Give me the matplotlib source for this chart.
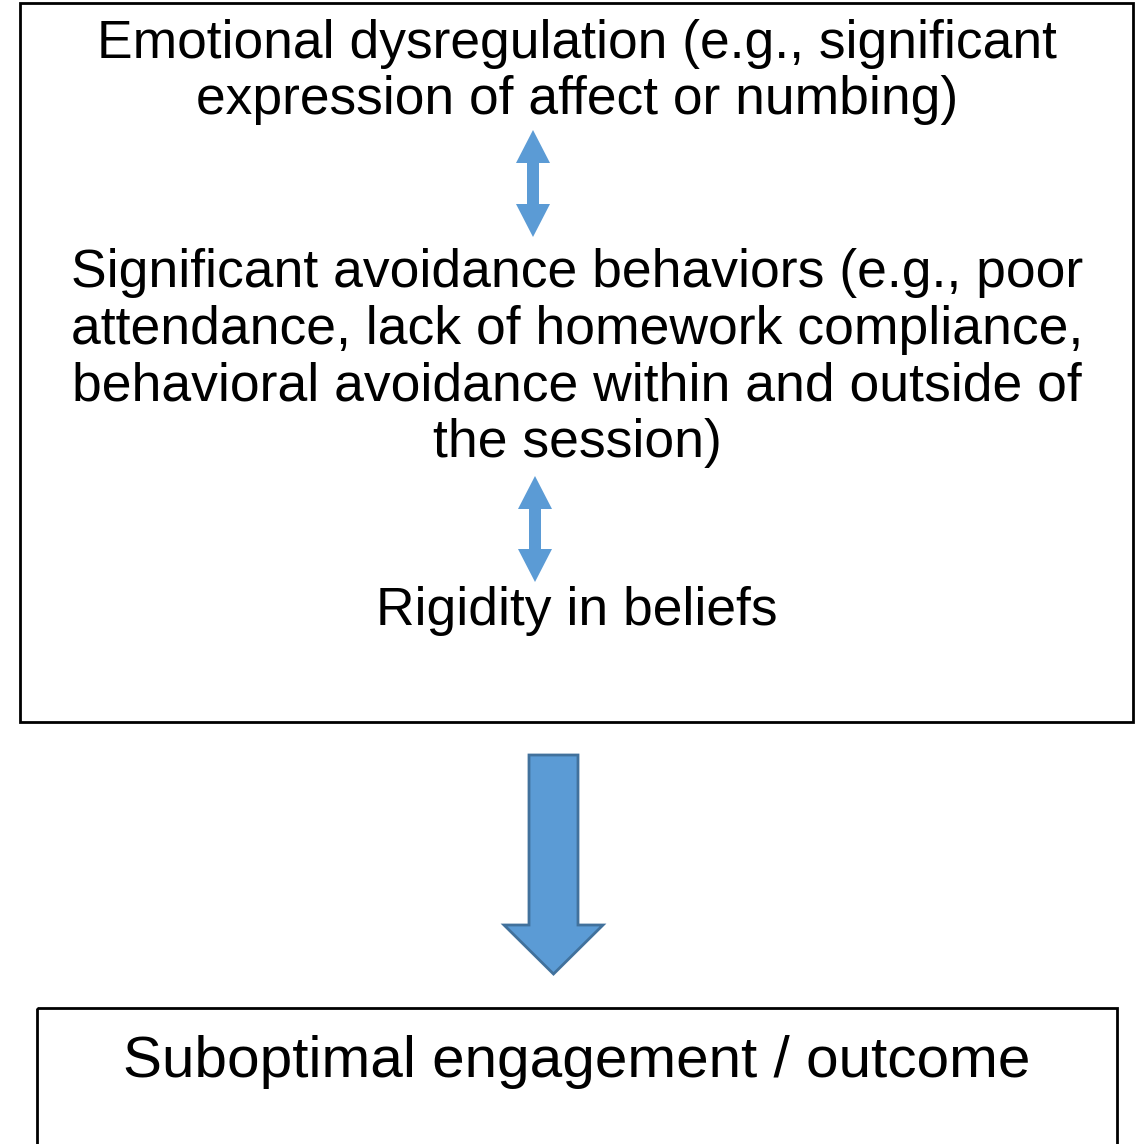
import matplotlib
matplotlib.use("Agg")
import matplotlib.pyplot as plt
from matplotlib.patches import Rectangle, FancyArrow, Polygon

plt.rcParams['font.family'] = ['Liberation Sans', 'DejaVu Sans']

# Content
factor_texts = [
    "Emotional dysregulation (e.g., significant\nexpression of affect or numbing)",
    "Significant avoidance behaviors (e.g., poor\nattendance, lack of homework compliance,\nbehavioral avoidance within and outside of\nthe session)",
    "Rigidity in beliefs",
]
outcome_text = "Suboptimal engagement / outcome"

W, H = 1140, 1144
fig = plt.figure(figsize=(W / 100, H / 100), dpi=100)
ax = fig.add_axes([0, 0, 1, 1])
ax.set_xlim(0, W)
ax.set_ylim(H, 0)
ax.axis('off')

blue = '#5B9BD5'
edge = '#41719C'

# Top box
ax.add_patch(Rectangle((20, 3), 1113, 719, fill=False, ec='black', lw=2))
# Bottom box
ax.add_patch(Rectangle((37, 1008), 1080, 200, fill=False, ec='black', lw=2, clip_on=True))

# Texts
ax.text(577, 72, factor_texts[0], ha='center', va='center', fontsize=38.4, linespacing=1.17)
ax.text(577, 358, factor_texts[1], ha='center', va='center', fontsize=38.5, linespacing=1.17)
ax.text(577, 611, factor_texts[2], ha='center', va='center', fontsize=38.4)
ax.text(577, 1062, outcome_text, ha='center', va='center', fontsize=42.1)

# Double arrows (single polygon)
def double_arrow(x, y0, y1, sw=12, hw=34, hl=33):
    pts = [
        (x, y0), (x + hw / 2, y0 + hl), (x + sw / 2, y0 + hl),
        (x + sw / 2, y1 - hl), (x + hw / 2, y1 - hl), (x, y1),
        (x - hw / 2, y1 - hl), (x - sw / 2, y1 - hl),
        (x - sw / 2, y0 + hl), (x - hw / 2, y0 + hl),
    ]
    ax.add_patch(Polygon(pts, closed=True, fc=blue, ec='none'))

double_arrow(533, 130, 237)
double_arrow(535, 476, 582)

# Big down arrow
ax.add_patch(FancyArrow(553.5, 755, 0, 974 - 755, width=49, head_width=99,
                        head_length=49, length_includes_head=True,
                        fc=blue, ec=edge, lw=2))

fig.savefig('out.png', dpi=100)
